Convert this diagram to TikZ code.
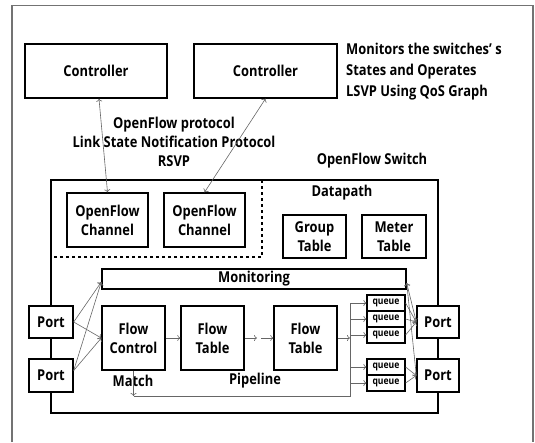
\documentclass[tikz,border=0pt]{standalone}
\usepackage{fontspec}
\setmainfont[FakeStretch=0.86]{Open Sans}
\usetikzlibrary{arrows.meta}
\begin{document}
\begin{tikzpicture}[x=1pt,y=-1pt,
 box/.style={draw, line width=1.4pt, fill=white, inner sep=0pt, font=\bfseries\fontsize{15}{19}\selectfont, align=center},
 qbox/.style={draw, line width=1.2pt, fill=white, inner sep=0pt, minimum width=38pt, minimum height=16pt, font=\bfseries\fontsize{10}{10}\selectfont},
 lbl/.style={font=\bfseries\fontsize{15}{19}\selectfont, inner sep=0pt, align=center},
 conn/.style={draw=black!60, line width=0.6pt},
 arr/.style={conn, -{To[length=3pt,width=6pt]}},
 darr/.style={conn, {To[length=3pt,width=6pt]}-{To[length=3pt,width=6pt]}},
]
\useasboundingbox (0,0) rectangle (535,442);
% outer frame
\draw[black!55, line width=1.2pt] (12,442) -- (12,5.5) -- (533,5.5) -- (533,442);

% controllers
\node[box, minimum width=142pt, minimum height=54pt] (c1) at (96,71) {Controller};
\node[box, minimum width=143pt, minimum height=54pt] (c2) at (265.5,71) {Controller};
\node[lbl, align=left, anchor=west, font=\bfseries\fontsize{15}{21}\selectfont] (mon0) at (346,72) {Monitors the switches’ s\\States and Operates\\LSVP Using QoS Graph};

\node[lbl] (proto) at (174,142) {OpenFlow protocol\\Link State Notification Protocol\\RSVP};
\node[lbl] (swt) at (372,161) {OpenFlow Switch};

% switch
\draw[line width=1.4pt] (51,180) rectangle (438,413);
\draw[line width=1.4pt, dashed] (262,180) -- (262,257) -- (51,257);
\node[lbl] (dp) at (342,193) {Datapath};

\node[box, minimum width=81pt, minimum height=54pt] (ch1) at (107.5,220) {OpenFlow\\Channel};
\node[box, minimum width=81pt, minimum height=54pt] (ch2) at (204.5,220) {OpenFlow\\Channel};
\node[box, minimum width=63pt, minimum height=43pt] (gt) at (314.5,236.5) {Group\\Table};
\node[box, minimum width=64pt, minimum height=43pt] (mt) at (394,236.5) {Meter\\Table};

\node[box, minimum width=304pt, minimum height=20pt] (mon) at (254,279) {Monitoring};

\node[box, minimum width=44pt, minimum height=32pt] (pl1) at (51,322) {Port};
\node[box, minimum width=44pt, minimum height=33pt] (pl2) at (51,375.5) {Port};
\node[box, minimum width=42pt, minimum height=32pt] (pr1) at (438,322) {Port};
\node[box, minimum width=42pt, minimum height=33pt] (pr2) at (438,375.5) {Port};

\node[box, minimum width=63pt, minimum height=64pt] (fc) at (133.5,338) {Flow\\Control};
\node[box, minimum width=63pt, minimum height=64pt] (ft1) at (212.5,338) {Flow\\Table};
\node[box, minimum width=63pt, minimum height=64pt] (ft2) at (305.5,338) {Flow\\Table};

\node[qbox] (q1) at (386,303) {queue};
\node[qbox] (q2) at (386,319) {queue};
\node[qbox] (q3) at (386,335) {queue};
\node[qbox] (q4) at (386,367) {queue};
\node[qbox] (q5) at (386,383) {queue};

\node[lbl] (match) at (133,381) {Match};
\node[lbl] (pipe) at (255,381) {Pipeline};

% controller links
\draw[darr] (ch1.north) -- ([xshift=3pt]c1.south);
\draw[darr] (ch2.north) -- (c2.south);

% left ports
\draw[arr] (pl1.east) -- ([yshift=-3pt]mon.west);
\draw[arr] (pl1.east) -- (fc.west);
\draw[arr] ([yshift=5pt]pl2.east) -- ([yshift=-3pt]mon.west);
\draw[arr] ([yshift=5pt]pl2.east) -- (fc.west);

% pipeline
\draw[arr] (fc.east) -- (ft1.west);
\coordinate (d1) at (257,338);
\coordinate (d2) at (261,338);
\draw[arr] (ft1.east) -- (d1);
\draw[arr] (d2) -- (ft2.west);
\coordinate (bus) at (350,338);
\coordinate (bot) at (350,396);
\draw[arr] (ft2.east) -- (bus);
\draw[conn] (bus |- q1.west) -- (bot) -- (fc.south |- bot);
\draw[arr] (fc.south) -- (fc.south |- bot);
\foreach \q in {q1,q2,q3,q4,q5} {\draw[arr] (bus |- \q.west) -- (\q.west);}

% queues to ports
\draw[arr] (q1.east) -- (pr1.west);
\draw[arr] (q2.east) -- (pr1.west);
\draw[arr] (q3.east) -- (pr1.west);
\draw[arr] (q4.east) -- (pr2.west);
\draw[arr] (q5.east) -- (pr2.west);
\draw[arr] (pr1.west) -- ([yshift=-4pt]mon.east);
\draw[arr] (pr2.west) -- ([yshift=-4pt]mon.east);
\end{tikzpicture}
\end{document}
